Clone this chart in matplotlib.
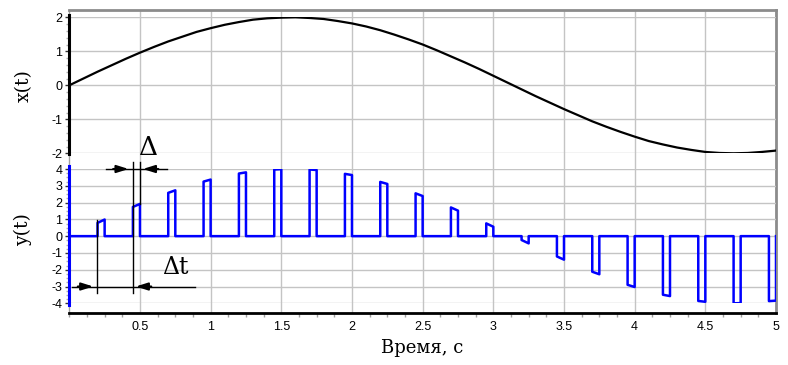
import matplotlib.pyplot as plt
from matplotlib.ticker import MultipleLocator

plt.rcParams['axes.unicode_minus'] = False

# Входной сигнал x(t), отсчёты через 0.1 с
t_x = [i / 10 for i in range(51)]
x_vals = [0.00, 0.20, 0.40, 0.59, 0.78, 0.96, 1.13, 1.29, 1.43, 1.57,
          1.68, 1.78, 1.86, 1.93, 1.97, 1.99, 2.00, 1.98, 1.95, 1.89,
          1.82, 1.73, 1.62, 1.49, 1.35, 1.20, 1.03, 0.85, 0.67, 0.48,
          0.28, 0.08, -0.12, -0.32, -0.51, -0.70, -0.88, -1.06, -1.22, -1.37,
          -1.51, -1.64, -1.74, -1.83, -1.90, -1.96, -1.99, -2.00, -1.99, -1.96,
          -1.92]

# Импульсы y(t): начало импульса, значение в начале и в конце
pulse_t = [0.20, 0.45, 0.70, 0.95, 1.20, 1.45, 1.70, 1.95, 2.20, 2.45,
           2.70, 2.95, 3.20, 3.45, 3.70, 3.95, 4.20, 4.45, 4.70, 4.95]
pulse_v0 = [0.79, 1.74, 2.58, 3.25, 3.73, 3.97, 3.97, 3.71, 3.23, 2.55,
            1.71, 0.76, -0.23, -1.21, -2.12, -2.90, -3.49, -3.86, -4.00, -3.87]
pulse_v1 = [0.99, 1.92, 2.73, 3.37, 3.80, 3.99, 3.94, 3.64, 3.11, 2.39,
            1.52, 0.56, -0.43, -1.40, -2.27, -3.03, -3.57, -3.91, -3.99, -3.84]
width = 0.05

x_ticks = [0.5, 1, 1.5, 2, 2.5, 3, 3.5, 4, 4.5, 5]
x_ticklabels = ['0.5', '1', '1.5', '2', '2.5', '3', '3.5', '4', '4.5', '5']

W, H = 788, 365


def box(x0, y0, x1, y1):
    # пиксели -> доли фигуры
    return [x0 / W, 1 - y1 / H, (x1 - x0) / W, (y1 - y0) / H]


fig = plt.figure(figsize=(W / 100, H / 100), dpi=100)
serif = 'DejaVu Serif'
sans = 'Liberation Sans'

# общая рамка и вертикальная сетка
ax = fig.add_axes(box(69.3, 10, 776, 313))
ax.set_xlim(0, 5)
ax.set_ylim(0, 1)
ax.set_yticks([])
ax.set_xticks(x_ticks)
ax.set_xticklabels(x_ticklabels, fontsize=9, family=sans)
ax.xaxis.set_minor_locator(MultipleLocator(0.125))
ax.tick_params(axis='x', which='major', length=0, pad=6)
ax.tick_params(axis='x', which='minor', length=3, color='#a0a0a0', width=1)
ax.grid(True, axis='x', color='#c4c4c4', lw=1)
for s in ['top', 'right']:
    ax.spines[s].set_color('#8c8c8c')
    ax.spines[s].set_linewidth(2)
ax.spines['left'].set_color('#a0a0a0')
ax.spines['left'].set_linewidth(1)
ax.spines['bottom'].set_color('black')
ax.spines['bottom'].set_linewidth(2)
ax.set_xlabel('Время, с', family=serif, fontsize=13, labelpad=4)

# верхний график x(t)
ax1 = fig.add_axes(box(69.3, 17.3, 776, 153.3))
ax1.patch.set_alpha(0)
ax1.plot(t_x, x_vals, color='black', lw=1.6)
ax1.set_xlim(0, 5)
ax1.set_ylim(-2, 2)
ax1.set_yticks([2, 1, 0, -1, -2])
ax1.yaxis.set_minor_locator(MultipleLocator(0.2))
ax1.set_xticks([])
ax1.grid(True, axis='y', color='#c4c4c4', lw=1)
ax1.set_ylabel('x(t)', family=serif, fontsize=13.5)
ax1.yaxis.set_label_coords(-0.051, 0.5)

# нижний график y(t)
yt = [0]
yv = [0]
for t0, v0, v1 in zip(pulse_t, pulse_v0, pulse_v1):
    yt += [t0, t0, t0 + width, t0 + width]
    yv += [0, v0, v1, 0]
ax2 = fig.add_axes(box(69.3, 169, 776, 303.3))
ax2.patch.set_alpha(0)
ax2.plot(yt, yv, color='#0000ff', lw=1.8)
ax2.set_xlim(0, 5)
ax2.set_ylim(-4, 4)
ax2.set_yticks(range(4, -5, -1))
ax2.yaxis.set_minor_locator(MultipleLocator(0.25))
ax2.set_xticks([])
ax2.grid(True, axis='y', color='#c4c4c4', lw=1)
ax2.set_ylabel('y(t)', family=serif, fontsize=13.5)
ax2.yaxis.set_label_coords(-0.053, 0.55)

for a, col, lo, hi in [(ax1, 'black', -2.02, 2.06), (ax2, '#0000ff', -4.1, 4.15)]:
    for s in ['top', 'right', 'bottom']:
        a.spines[s].set_visible(False)
    a.spines['left'].set_color(col)
    a.spines['left'].set_linewidth(2.2)
    a.spines['left'].set_bounds(lo, hi)
    a.tick_params(axis='y', which='major', length=3, width=1, color='#333333',
                  labelsize=9, pad=2)
    a.tick_params(axis='y', which='minor', length=2, width=1, color='#b0b0b0')
    for lbl in a.get_yticklabels():
        lbl.set_family(sans)

# размерные линии Δ и Δt
lk = dict(color='black', lw=1, clip_on=False)
ax2.plot([0.45, 0.45], [4.42, -3.41], **lk)
ax2.plot([0.50, 0.50], [4.42, 1.92], **lk)
ax2.plot([0.195, 0.195], [0.96, -3.41], **lk)
ax2.plot([0.26, 0.69], [4, 4], **lk)
ax2.plot([0.017, 0.89], [-3, -3], **lk)
ak = dict(arrowstyle='-|>,head_length=0.7,head_width=0.22', color='black',
          lw=1.5, shrinkA=0, shrinkB=0)
ax2.annotate('', xy=(0.42, 4), xytext=(0.31, 4), arrowprops=ak, annotation_clip=False)
ax2.annotate('', xy=(0.52, 4), xytext=(0.63, 4), arrowprops=ak, annotation_clip=False)
ax2.annotate('', xy=(0.17, -3), xytext=(0.06, -3), arrowprops=ak, annotation_clip=False)
ax2.annotate('', xy=(0.47, -3), xytext=(0.58, -3), arrowprops=ak, annotation_clip=False)
ax2.text(0.557, 5.3, 'Δ', family=serif, fontsize=19, ha='center', va='center')
ax2.text(0.75, -1.84, 'Δt', family=serif, fontsize=17, ha='center', va='center')

fig.savefig('out.png', dpi=100)
